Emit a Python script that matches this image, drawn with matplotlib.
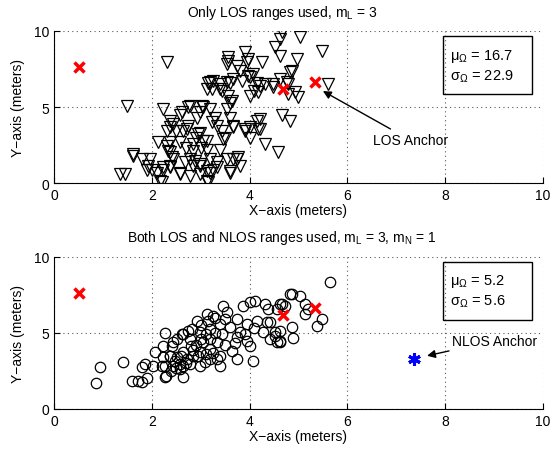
import numpy as np
import matplotlib
matplotlib.use("Agg")
import matplotlib.pyplot as plt
from matplotlib.patches import Rectangle

plt.rcParams['font.family'] = ['Liberation Sans', 'DejaVu Sans']
plt.rcParams['mathtext.fontset'] = 'custom'
plt.rcParams['mathtext.rm'] = 'Liberation Sans'
plt.rcParams['mathtext.it'] = 'Liberation Sans'
plt.rcParams['mathtext.default'] = 'regular'

# anchors (same in both panels)
los_anchor_x = [0.51, 4.68, 5.34]
los_anchor_y = [7.6, 6.2, 6.64]
nlos_anchor_x = [7.37]
nlos_anchor_y = [3.3]

# estimates, only LOS ranges used
top_pts = [
    (1.49, 5.1), (2.31, 7.96), (1.35, 0.6), (1.45, 0.6), (1.62, 1.9), (1.8, 1.6), (1.96, 1.6),
    (1.9, 0.9), (2.0, 0.9), (2.17, 0.13), (2.23, 4.9), (2.37, 4.1), (2.31, 3.4), (2.5, 3.4),
    (2.13, 2.7), (2.37, 2.7), (2.58, 2.7), (2.64, 3.4), (2.74, 3.75), (2.78, 5.06), (2.58, 4.5),
    (2.33, 2.1), (2.41, 1.7), (2.23, 1.05), (2.37, 1.05), (2.58, 0.6), (2.78, 0.45), (2.68, 1.4),
    (2.88, 1.45), (2.99, 1.25), (2.84, 2.1), (2.92, 4.3), (2.99, 4.7), (3.05, 5.0), (2.95, 3.2),
    (3.05, 2.75), (3.13, 0.8), (3.13, 0.13), (3.15, 6.6), (3.23, 6.2), (3.39, 6.5), (3.44, 6.05),
    (3.6, 6.6), (3.56, 8.0), (3.74, 7.7), (3.8, 7.4), (3.95, 7.96), (4.0, 7.0), (4.15, 6.6),
    (4.0, 5.7), (4.1, 6.05), (3.56, 5.7), (3.64, 5.4), (2.62, 4.67), (2.74, 5.0), (3.03, 5.07),
    (3.19, 4.87), (3.54, 4.87), (3.6, 4.3), (3.66, 3.75), (3.9, 3.55), (4.0, 3.0), (3.33, 3.75),
    (3.43, 3.4), (3.5, 3.0), (3.29, 4.3), (3.23, 4.0), (2.98, 3.3), (3.13, 2.75), (3.39, 2.2),
    (3.46, 2.9), (3.13, 2.2), (3.19, 1.6), (3.33, 1.4), (3.25, 0.9), (3.54, 1.6), (3.74, 1.6),
    (3.8, 1.1), (3.6, 0.7), (2.78, 1.6), (2.84, 1.1), (2.58, 0.7), (2.99, 1.1), (2.99, 0.6),
    (3.19, 0.7), (3.33, 1.05), (2.37, 3.7), (2.43, 3.9), (2.72, 3.55), (2.31, 2.43), (2.37, 2.04),
    (2.43, 1.6), (2.37, 1.1), (2.23, 0.9), (1.92, 1.1), (2.1, 0.7), (2.21, 0.1), (1.62, 1.8),
    (4.15, 4.1), (4.17, 3.55), (4.0, 3.7), (4.66, 9.93), (4.62, 9.47), (5.03, 9.6), (4.52, 8.95),
    (4.62, 8.36), (4.97, 8.16), (3.56, 8.3), (3.54, 7.8), (3.9, 8.6), (3.97, 8.16), (4.25, 7.96),
    (3.97, 7.04), (4.07, 7.17), (4.62, 6.84), (4.83, 7.3), (4.87, 7.37), (4.21, 6.38), (4.48, 6.5),
    (4.76, 6.64), (4.79, 5.85), (4.99, 5.66), (4.93, 5.99), (4.17, 6.0), (3.19, 6.64), (3.25, 6.7),
    (3.39, 6.2), (3.54, 6.64), (3.66, 6.84), (3.84, 6.7), (3.13, 6.2), (3.6, 5.3), (4.21, 4.2),
    (4.66, 4.5), (4.83, 4.1), (4.31, 2.57), (4.58, 2.04), (3.66, 1.6), (3.76, 1.7), (3.6, 0.8),
    (3.15, 0.1), (3.9, 3.4), (3.66, 3.7), (5.48, 8.68), (5.6, 6.5), (4.79, 6.5), (4.31, 6.5),
    (4.48, 6.3), (4.21, 3.55), (2.9, 3.0), (2.85, 2.6), (3.0, 2.3), (2.7, 2.3),
]

# estimates, both LOS and NLOS ranges used
bottom_pts = [
    (0.94, 2.76), (0.86, 1.7), (1.41, 3.1), (1.6, 1.84), (1.72, 1.84), (1.8, 1.78), (1.9, 2.04),
    (1.8, 2.76), (1.86, 2.96), (2.02, 2.83), (2.27, 5.0), (2.23, 4.14), (2.21, 2.83), (2.29, 2.17),
    (2.41, 4.14), (2.52, 4.6), (2.64, 4.93), (2.74, 5.13), (2.37, 3.5), (2.47, 3.16), (2.58, 2.96),
    (2.72, 3.29), (2.58, 2.63), (2.64, 2.1), (2.27, 2.83), (2.43, 2.83), (2.64, 2.83), (2.27, 2.1),
    (2.43, 4.4), (2.62, 4.93), (2.82, 5.26), (2.92, 5.79), (3.13, 6.25), (3.25, 6.12), (3.46, 6.78),
    (3.54, 6.38), (3.74, 5.92), (3.87, 6.78), (4.0, 7.04), (4.11, 7.1), (4.31, 6.91), (4.38, 6.58),
    (4.42, 5.72), (4.15, 5.79), (3.95, 5.59), (3.8, 5.06), (4.27, 5.06), (4.42, 4.6), (4.56, 4.4),
    (4.0, 4.14), (3.95, 4.47), (4.07, 3.16), (3.19, 3.95), (3.39, 3.49), (3.64, 3.82), (3.74, 3.29),
    (3.33, 4.4), (3.05, 4.4), (2.99, 3.75), (2.84, 3.49), (2.78, 2.96), (2.99, 2.83), (3.09, 3.09),
    (3.39, 2.83), (3.33, 3.29), (3.19, 5.26), (2.99, 5.06), (2.78, 4.6), (3.43, 4.93), (3.6, 5.4),
    (3.74, 4.74), (2.64, 3.75), (2.52, 3.42), (2.07, 3.75), (2.23, 3.42), (2.37, 3.49), (4.62, 4.47),
    (4.52, 5.06), (4.36, 5.72), (4.66, 6.91), (4.83, 7.57), (5.64, 8.36), (4.87, 7.57), (5.03, 7.43),
    (5.13, 6.91), (5.19, 6.58), (5.13, 6.25), (5.48, 5.92), (5.38, 5.46), (4.62, 6.91), (4.72, 6.78),
    (4.56, 6.58), (4.87, 5.39), (4.62, 5.13), (4.62, 4.4), (4.89, 4.67), (4.52, 4.8), (2.9, 4.2),
    (3.0, 4.6), (3.1, 4.9), (3.2, 4.6), (3.3, 5.0), (2.85, 3.9), (3.1, 3.6), (3.2, 3.3), (2.7, 3.0),
    (2.5, 2.7), (2.4, 2.5), (3.5, 4.2), (3.7, 4.3), (3.9, 4.9), (4.1, 5.3), (2.6, 3.5), (2.8, 4.1),
    (3.0, 5.5), (3.4, 5.6), (3.3, 6.0), (3.15, 5.8), (3.5, 5.9), (2.95, 3.5), (3.25, 3.7),
]

top_stats = ("16.7", "22.9")
bottom_stats = ("5.2", "5.6")

fig = plt.figure(figsize=(5.54, 4.56), dpi=100)
ax1 = fig.add_axes([0.0975, 0.596, 0.8825, 0.334])
ax2 = fig.add_axes([0.0975, 0.101, 0.8825, 0.334])


def style(ax, title):
    ax.set_xlim(0, 10)
    ax.set_ylim(0, 10)
    ax.set_xticks([0, 2, 4, 6, 8, 10])
    ax.set_yticks([0, 5, 10])
    ax.grid(True, linestyle=(0, (1, 3)), color='0.35', linewidth=0.8)
    ax.set_axisbelow(True)
    ax.spines['top'].set_visible(False)
    ax.spines['right'].set_visible(False)
    ax.tick_params(direction='in', length=4, labelsize=10, width=0.8)
    ax.set_xlabel("X\u2212axis (meters)", fontsize=10, labelpad=1)
    ax.set_ylabel("Y\u2212axis (meters)", fontsize=10, labelpad=6)
    ax.set_title(title, fontsize=10, pad=11, x=0.466)


def stats_box(ax, mu, sigma):
    ax.add_patch(Rectangle((7.95, 5.86), 1.83, 3.81, fill=False, edgecolor='k',
                           linewidth=1.0, zorder=5))
    ax.text(8.1, 7.75, "\u03bc$_\u03a9$ = " + mu + "\n\u03c3$_\u03a9$ = " + sigma,
            fontsize=10.5, va='center', ha='left', linespacing=1.3, zorder=6)


tx, ty = zip(*top_pts)
ax1.plot(tx, ty, linestyle='none', marker='v', markersize=8, markerfacecolor='none',
         markeredgecolor='k', markeredgewidth=0.9)
ax1.plot(los_anchor_x, los_anchor_y, linestyle='none', marker='x', markersize=7,
         markeredgewidth=2.5, color='red', zorder=4)
style(ax1, "Only LOS ranges used, m$_L$ = 3")
stats_box(ax1, *top_stats)
ax1.annotate("LOS Anchor", xy=(5.5, 6.05), xytext=(6.52, 2.83), fontsize=10,
             va='center', ha='left',
             arrowprops=dict(arrowstyle='-|>', color='k', lw=1.0, shrinkA=2, shrinkB=0,
                             mutation_scale=12))

bx, by = zip(*bottom_pts)
ax2.plot(bx, by, linestyle='none', marker='o', markersize=7.5, markerfacecolor='none',
         markeredgecolor='k', markeredgewidth=0.9)
ax2.plot(los_anchor_x, los_anchor_y, linestyle='none', marker='x', markersize=7,
         markeredgewidth=2.5, color='red', zorder=4)
ax2.plot(nlos_anchor_x, nlos_anchor_y, linestyle='none', marker=(6, 2, 0), markersize=9,
         markeredgewidth=2.2, color='blue', zorder=4)
style(ax2, "Both LOS and NLOS ranges used, m$_L$ = 3, m$_N$ = 1")
stats_box(ax2, *bottom_stats)
ax2.annotate("NLOS Anchor", xy=(7.63, 3.49), xytext=(8.14, 4.47), fontsize=10,
             va='center', ha='left',
             arrowprops=dict(arrowstyle='-|>', color='k', lw=1.0, shrinkA=1, shrinkB=0,
                             mutation_scale=12))

fig.savefig("out.png", dpi=100)
